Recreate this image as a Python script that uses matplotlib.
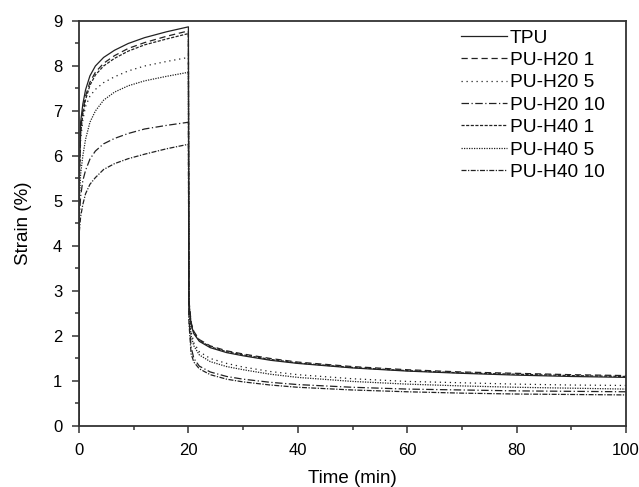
import matplotlib
matplotlib.use("Agg")
import matplotlib.pyplot as plt
from matplotlib.ticker import MultipleLocator

plt.rcParams['font.family'] = ['Liberation Sans', 'DejaVu Sans']

# temps (min) - fluage puis recouvrance
t_creep = [0, 0.05, 0.3, 0.7, 1.2, 2, 3, 4.5, 6.5, 9, 12, 16, 20]
t_recov = [20.1, 20.5, 21, 22, 24, 27, 30, 35, 40, 50, 60, 70, 80, 90, 100]

labels = ["TPU", "PU-H20 1", "PU-H20 5", "PU-H20 10", "PU-H40 1", "PU-H40 5", "PU-H40 10"]

# déformation (%) pendant le fluage
creep_tpu = [0, 5.6, 6.75, 7.15, 7.47, 7.78, 8.0, 8.19, 8.35, 8.5, 8.63, 8.76, 8.87]
creep_h20_1 = [0, 5.5, 6.6, 7.0, 7.33, 7.64, 7.86, 8.06, 8.23, 8.39, 8.52, 8.66, 8.78]
creep_h20_5 = [0, 5.3, 6.35, 6.8, 7.1, 7.33, 7.48, 7.63, 7.76, 7.89, 8.0, 8.1, 8.19]
creep_h20_10 = [0, 4.6, 5.1, 5.45, 5.68, 5.93, 6.11, 6.27, 6.39, 6.5, 6.6, 6.68, 6.75]
creep_h40_1 = [0, 5.4, 6.5, 6.92, 7.25, 7.57, 7.8, 8.0, 8.17, 8.33, 8.47, 8.6, 8.72]
creep_h40_5 = [0, 4.9, 5.6, 6.0, 6.37, 6.75, 7.0, 7.24, 7.42, 7.56, 7.67, 7.77, 7.86]
creep_h40_10 = [0, 4.3, 4.65, 4.92, 5.16, 5.37, 5.52, 5.7, 5.83, 5.94, 6.04, 6.16, 6.26]

# déformation (%) pendant la recouvrance
recov_tpu = [2.7, 2.25, 2.05, 1.88, 1.74, 1.63, 1.56, 1.46, 1.39, 1.29, 1.22, 1.17, 1.13, 1.1, 1.08]
recov_h20_1 = [2.8, 2.3, 2.1, 1.92, 1.78, 1.67, 1.6, 1.5, 1.42, 1.32, 1.25, 1.2, 1.17, 1.14, 1.12]
recov_h20_5 = [2.6, 2.1, 1.85, 1.65, 1.5, 1.39, 1.31, 1.21, 1.14, 1.05, 0.99, 0.96, 0.93, 0.91, 0.9]
recov_h20_10 = [2.4, 1.75, 1.5, 1.33, 1.2, 1.1, 1.04, 0.97, 0.92, 0.86, 0.82, 0.8, 0.78, 0.77, 0.76]
recov_h40_1 = [2.75, 2.27, 2.07, 1.9, 1.76, 1.65, 1.58, 1.48, 1.4, 1.3, 1.23, 1.18, 1.15, 1.12, 1.1]
recov_h40_5 = [2.5, 2.0, 1.78, 1.58, 1.43, 1.32, 1.25, 1.15, 1.08, 0.99, 0.93, 0.89, 0.86, 0.84, 0.82]
recov_h40_10 = [2.3, 1.6, 1.42, 1.27, 1.14, 1.04, 0.98, 0.91, 0.86, 0.8, 0.76, 0.73, 0.71, 0.7, 0.69]

creep = [creep_tpu, creep_h20_1, creep_h20_5, creep_h20_10, creep_h40_1, creep_h40_5, creep_h40_10]
recov = [recov_tpu, recov_h20_1, recov_h20_5, recov_h20_10, recov_h40_1, recov_h40_5, recov_h40_10]

styles = ["-", (0, (5, 3)), (0, (1, 3)), (0, (6, 2, 1, 2)),
          (0, (2.5, 1.2)), (0, (1, 1)), (0, (4, 1.2, 1, 1.2))]

fig = plt.figure(figsize=(6.39, 4.87), dpi=100)
ax = fig.add_axes([0.1236, 0.1253, 0.8561, 0.8316])

t_all = t_creep + t_recov
for lab, c, r, ls in zip(labels, creep, recov, styles):
    ax.plot(t_all, c + r, color="#222222", linewidth=0.9, linestyle=ls, label=lab)

ax.set_xlim(0, 100)
ax.set_ylim(0, 9)
ax.xaxis.set_major_locator(MultipleLocator(20))
ax.xaxis.set_minor_locator(MultipleLocator(10))
ax.yaxis.set_major_locator(MultipleLocator(1))
ax.yaxis.set_minor_locator(MultipleLocator(0.5))
ax.tick_params(which="both", direction="out", top=False, right=False,
               labelsize=12, width=1.1, color="#333333")
ax.tick_params(which="major", length=5, pad=7)
ax.tick_params(which="minor", length=3)
for s in ax.spines.values():
    s.set_linewidth(1.3)
    s.set_color("#333333")

ax.set_xlabel("Time (min)", fontsize=13.5, labelpad=9)
ax.set_ylabel("Strain (%)", fontsize=13.5, labelpad=15)

ax.legend(loc="upper right", frameon=False, fontsize=13.8, handlelength=2.4,
          handletextpad=0.15, labelspacing=0.26, borderaxespad=0.3,
          bbox_to_anchor=(0.986, 1.013))

plt.savefig("out.png", dpi=100)
